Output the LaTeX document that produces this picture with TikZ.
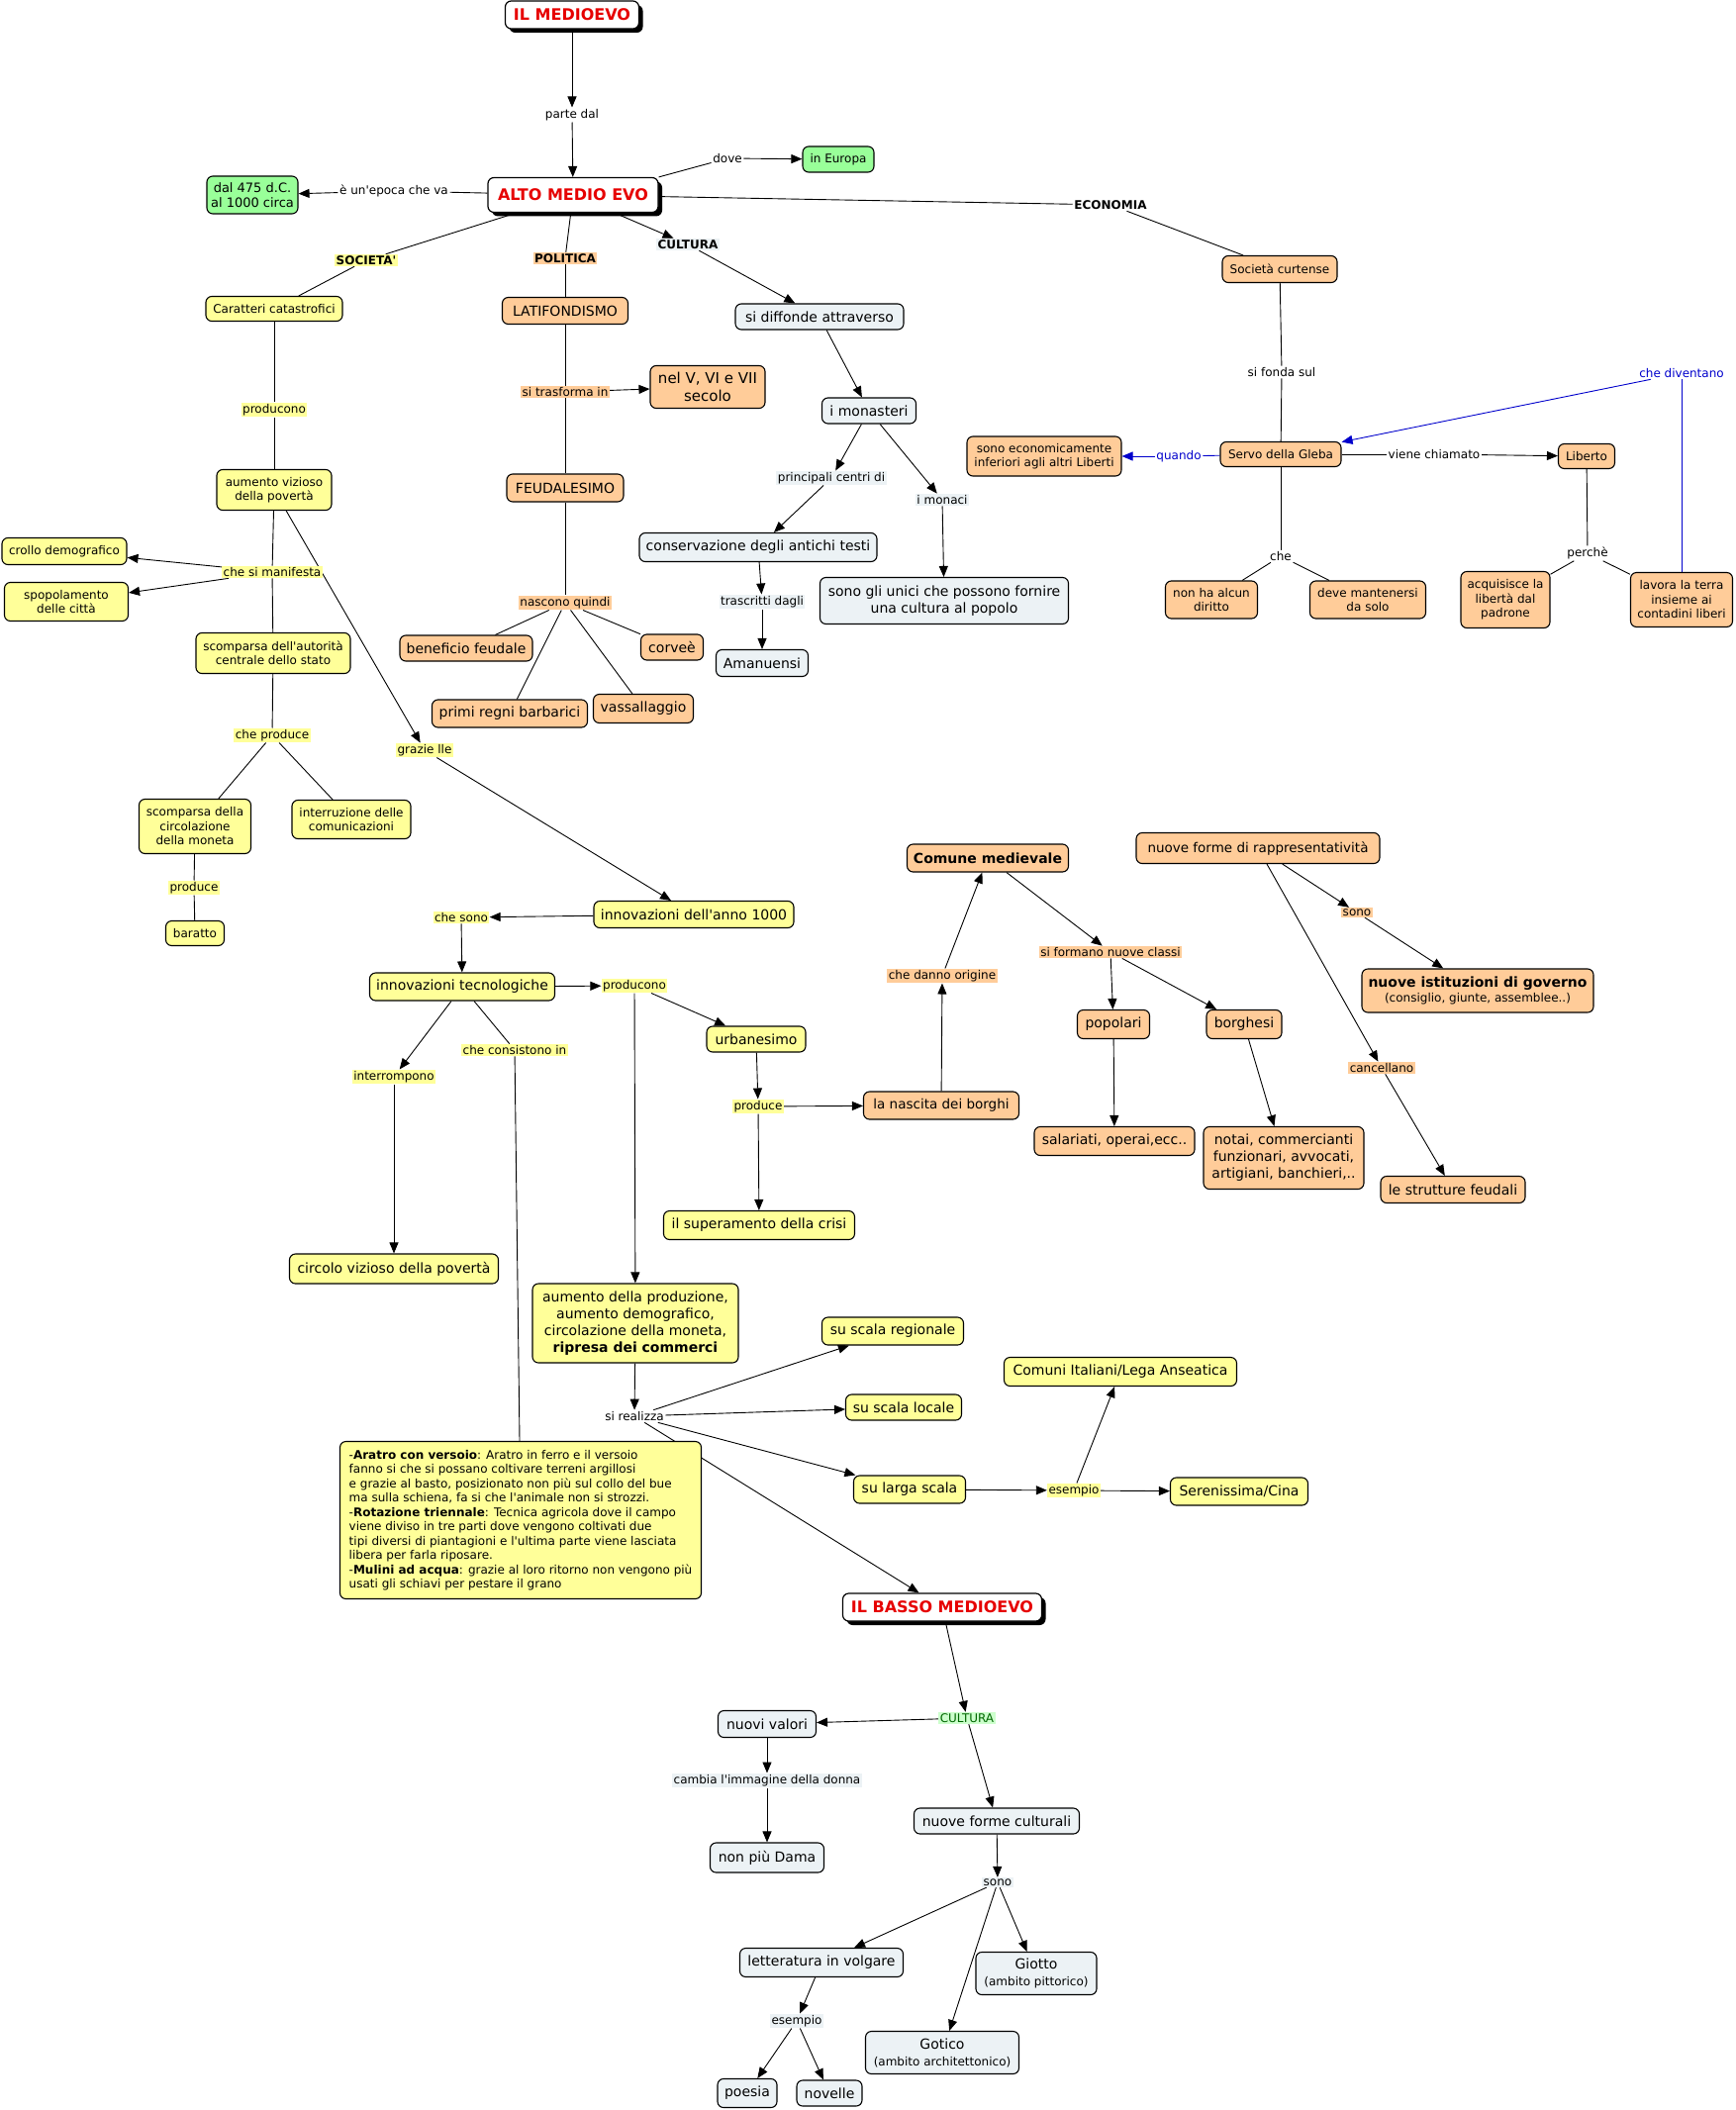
\documentclass[tikz,border=0pt]{standalone}
\usepackage{fontspec}
\setmainfont{DejaVu Sans}[Ligatures=TeXOff]
\usetikzlibrary{arrows.meta,shadows,backgrounds}
\definecolor{cY}{HTML}{FFFF99}
\definecolor{cP}{HTML}{FFCC99}
\definecolor{cL}{HTML}{ECF2F5}
\definecolor{cG}{HTML}{99FF99}
\definecolor{cGb}{HTML}{CCFFCC}
\definecolor{cGt}{HTML}{006600}
\definecolor{cR}{HTML}{E60000}
\definecolor{cB}{HTML}{0000CC}
\newcommand\fsz[2]{\fontsize{#1}{#2}\selectfont}
\begin{document}
\begin{tikzpicture}[x=1pt,y=-1pt,
  bx/.style={draw=black,line width=1.1pt,rounded corners=6pt,align=center,inner sep=2pt,font=\fsz{12}{14.5}},
  s12/.style={font=\fsz{12}{14.5}},
  s13/.style={font=\fsz{13.5}{16}},
  s14/.style={font=\fsz{14}{17}},
  s15/.style={font=\fsz{15}{18}},
  wh/.style args={#1x#2}{minimum width=#1pt,minimum height=#2pt},
  yb/.style={bx,fill=cY},
  pb/.style={bx,fill=cP},
  lb/.style={bx,fill=cL},
  gb/.style={bx,fill=cG},
  tb/.style={bx,fill=white,line width=1.2pt,text=cR,font=\fsz{16}{19}\bfseries,
     drop shadow={shadow xshift=4pt,shadow yshift=-4pt,fill=black,opacity=1}},
  lab/.style={inner sep=1.5pt,font=\fsz{12}{14.5}},
  ylab/.style={lab,fill=cY},
  plab/.style={lab,fill=cP},
  llab/.style={lab,fill=cL},
  con/.style={line width=0.9pt,draw=black},
  arr/.style={con,-{Triangle[length=11pt,width=9pt]}},
]
\useasboundingbox (0,0) rectangle (1753,2132);

% ---------- titles ----------
\node[tb,wh=135x28] (med) at (578,15) {IL MEDIOEVO};
\node[tb,wh=172x35] (alto) at (579,197) {ALTO MEDIO EVO};
\node[tb,wh=201x28] (basso) at (952,1624) {IL BASSO MEDIOEVO};

% ---------- top ----------
\node[lab] (partedal) at (578,116) {parte dal};
\node[gb,font=\fsz{13}{15.5},wh=92x38] (dal) at (255,197) {dal 475 d.C.\\al 1000 circa};
\node[lab] (epoca) at (398,193) {è un'epoca che va};
\node[lab] (dove) at (735,160) {dove};
\node[gb,wh=72x26] (europa) at (847,161) {in Europa};
\node[lab,font=\fsz{12}{14.5}\bfseries] (economia) at (1122,207) {ECONOMIA};
\node[ylab,font=\fsz{12}{14.5}\bfseries] (societa) at (370,263) {SOCIETA'};
\node[plab,font=\fsz{12}{14.5}\bfseries] (politica) at (571,261) {POLITICA};
\node[llab,font=\fsz{12}{14.5}\bfseries] (cultura) at (695,247) {CULTURA};

% ---------- societa ----------
\node[yb,wh=138x25] (caratteri) at (277,312) {Caratteri catastrofici};
\node[ylab] (producono1) at (277,414) {producono};
\node[yb,wh=116x41] (aumentoviz) at (277,495) {aumento vizioso\\della povertà};
\node[ylab] (manifesta) at (275,578) {che si manifesta};
\node[yb,wh=126x27] (crollo) at (65,557) {crollo demografico};
\node[yb,wh=125x39] (spopol) at (67,608) {spopolamento\\delle città};
\node[yb,wh=156x41] (scompaut) at (276,660) {scomparsa dell'autorità\\centrale dello stato};
\node[ylab] (cheproduce) at (275,743) {che produce};
\node[yb,wh=113x55] (scompcirc) at (197,835) {scomparsa della\\circolazione\\della moneta};
\node[yb,wh=120x39] (interr) at (355,828) {interruzione delle\\comunicazioni};
\node[ylab] (produce1) at (196,897) {produce};
\node[yb,wh=59x25] (baratto) at (197,943) {baratto};
\node[ylab] (grazie) at (429,758) {grazie lle};

% ---------- politica ----------
\node[pb,s14,wh=127x27] (latif) at (571,314) {LATIFONDISMO};
\node[plab] (trasforma) at (571,396) {si trasforma in};
\node[pb,s15,wh=116x43] (secolo) at (715,391) {nel V, VI e VII\\secolo};
\node[pb,s14,wh=118x28] (feud) at (571,493) {FEUDALESIMO};
\node[plab] (nascono) at (571,609) {nascono quindi};
\node[pb,s14,wh=134x26] (benef) at (471,655) {beneficio feudale};
\node[pb,s14,wh=63x26] (corvee) at (679,654) {corveè};
\node[pb,s14,wh=157x28] (primi) at (515,721) {primi regni barbarici};
\node[pb,s14,wh=101x29] (vassal) at (650,716) {vassallaggio};

% ---------- cultura ----------
\node[lb,s14,wh=170x26] (diffonde) at (828,320) {si diffonde attraverso};
\node[lb,s14,wh=95x26] (monasteri) at (878,415) {i monasteri};
\node[llab] (principali) at (840,483) {principali centri di\ };
\node[llab] (monaci) at (952,505) {i monaci};
\node[lb,s14,wh=240x29] (conserv) at (766,553) {conservazione degli antichi testi};
\node[lb,s14,wh=251x47] (unici) at (954,607) {sono gli unici che possono fornire\\una cultura al popolo};
\node[llab] (trascritti) at (770,608) {trascritti dagli};
\node[lb,s14,wh=93x27] (amanuensi) at (770,670) {Amanuensi};

% ---------- economia ----------
\node[pb,wh=116x27] (curtense) at (1293,272) {Società curtense};
\node[lab] (fonda) at (1295,376) {si fonda sul};
\node[pb,wh=122x25] (servo) at (1294,459) {Servo della Gleba};
\node[lab,text=cB] (quando) at (1191,461) {quando};
\node[pb,wh=156x40] (inferiori) at (1055,461) {sono economicamente\\inferiori agli altri Liberti};
\node[lab] (chiamato) at (1449,459) {viene chiamato};
\node[pb,wh=57x25] (liberto) at (1603,461) {Liberto};
\node[lab,text=cB] (diventano) at (1699,377) {che diventano};
\node[lab] (che) at (1294,562) {che};
\node[pb,wh=93x38] (nonha) at (1224,606) {non ha alcun\\diritto};
\node[pb,wh=117x38] (deve) at (1382,606) {deve mantenersi\\da solo};
\node[lab] (perche) at (1604,559) {perchè};
\node[pb,wh=90x57] (acquis) at (1521,606) {acquisisce la\\libertà dal\\padrone};
\node[pb,wh=103x55] (lavora) at (1699,606) {lavora la terra\\insieme ai\\contadini liberi};

% ---------- innovazioni ----------
\node[yb,s14,wh=202x27] (innov1000) at (701,924) {innovazioni dell'anno 1000};
\node[ylab] (chesono) at (466,927) {che sono};
\node[yb,s14,wh=187x28] (innovtec) at (467,997) {innovazioni tecnologiche};
\node[ylab] (producono2) at (641,996) {producono};
\node[yb,s14,wh=100x26] (urban) at (764,1050) {urbanesimo};
\node[ylab] (produce2) at (766,1118) {produce};
\node[pb,s13,wh=157x28] (nascita) at (951,1117) {la nascita dei borghi};
\node[yb,s14,wh=193x29] (superam) at (767,1238) {il superamento della crisi};
\node[ylab] (interrompono) at (398,1088) {interrompono};
\node[yb,s14,wh=211x30] (circolo) at (398,1282) {circolo vizioso della povertà};
\node[ylab] (consistono) at (520,1061) {che consistono in\ };
\node[yb,s14,wh=208x80] (aumprod) at (642,1337) {aumento della produzione,\\aumento demografico,\\circolazione della moneta,\\\textbf{ripresa dei commerci}};
\node[yb,align=left,inner xsep=8pt,wh=365x159] (note) at (526,1536) {-\textbf{Aratro con versoio}: Aratro in ferro e il versoio\\
fanno si che si possano coltivare terreni argillosi\\
e grazie al basto, posizionato non più sul collo del bue\\
ma sulla schiena, fa si che l'animale non si strozzi.\\
-\textbf{Rotazione triennale}: Tecnica agricola dove il campo\\
viene diviso in tre parti dove vengono coltivati due\\
tipi diversi di piantagioni e l'ultima parte viene lasciata\\
libera per farla riposare.\\
-\textbf{Mulini ad acqua}: grazie al loro ritorno non vengono più\\
usati gli schiavi per pestare il grano};
\node[lab] (realizza) at (641,1431) {si realizza};
\node[yb,s14,wh=143x28] (regionale) at (902,1345) {su scala regionale};
\node[yb,s14,wh=117x26] (locale) at (913,1422) {su scala locale};
\node[yb,s14,wh=113x28] (larga) at (919,1505) {su larga scala};
\node[ylab] (esempio1) at (1085,1506) {esempio};
\node[yb,s14,wh=235x29] (comuni) at (1132,1386) {Comuni Italiani/Lega Anseatica};
\node[yb,s14,wh=139x28] (seren) at (1252,1507) {Serenissima/Cina};

% ---------- comune ----------
\node[pb,s14,wh=163x28,font=\fsz{14}{17}\bfseries] (comune) at (998,867) {Comune medievale};
\node[plab] (danno) at (952,986) {che danno origine};
\node[plab] (formano) at (1122,962) {si formano nuove classi};
\node[pb,s14,wh=73x29] (popolari) at (1125,1035) {popolari};
\node[pb,s14,wh=76x29] (borghesi) at (1257,1035) {borghesi};
\node[pb,s14,wh=162x29] (salariati) at (1126,1153) {salariati, operai,ecc..};
\node[pb,s14,wh=162x63] (notai) at (1297,1170) {notai, commercianti\\funzionari, avvocati,\\artigiani, banchieri,..};
\node[pb,s13,wh=246x31] (nuoveforme) at (1271,857) {nuove forme di rappresentatività};
\node[plab] (sono1) at (1371,922) {sono};
\node[pb,wh=234x44] (istit) at (1493,1001) {{\fsz{14}{17}\bfseries nuove istituzioni di governo}\\(consiglio, giunte, assemblee..)};
\node[plab] (cancellano) at (1396,1079) {cancellano};
\node[pb,s14,wh=146x27] (strutture) at (1468,1202) {le strutture feudali};

% ---------- basso medioevo ----------
\node[lab,fill=cGb,text=cGt] (cultura2) at (977,1736) {CULTURA};
\node[lb,s14,wh=99x27] (nuovivalori) at (775,1742) {nuovi valori};
\node[llab] (cambia) at (775,1799) {cambia l'immagine della donna};
\node[lb,s14,wh=115x30] (nonpiu) at (775,1877) {non più Dama};
\node[lb,s14,wh=167x26] (nuovefc) at (1007,1840) {nuove forme culturali};
\node[llab] (sono2) at (1008,1902) {sono};
\node[lb,s14,wh=165x29] (letter) at (830,1983) {letteratura in volgare};
\node[lb,s14,wh=122x43] (giotto) at (1047,1994) {Giotto\\{\fsz{12}{14.5}(ambito pittorico)}};
\node[lb,s14,wh=155x43] (gotico) at (952,2074) {Gotico\\{\fsz{12}{14.5}(ambito architettonico)}};
\node[llab] (esempio2) at (805,2042) {esempio};
\node[lb,s14,wh=60x29] (poesia) at (755,2115) {poesia};
\node[lb,s14,wh=66x26] (novelle) at (838,2115) {novelle};

% ---------- connectors ----------
\begin{scope}[on background layer]
\fill[white] (0,0) rectangle (1753,2132);
\draw[arr] (med) -- (partedal);
\draw[arr] (partedal) -- (alto);
\draw[con] (alto) -- (epoca);
\draw[arr] (epoca) -- (dal);
\draw[con] (alto.north east) -- (dove);
\draw[arr] (dove) -- (europa);
\draw[con] (alto) -- (economia);
\draw[con] (economia) -- (curtense);
\draw[con] (alto) -- (societa);
\draw[con] (alto) -- (politica);
\draw[arr] (alto) -- (cultura);
\draw[arr] (cultura) -- (diffonde);
\draw[con] (societa) -- (caratteri);
\draw[con] (politica) -- (latif);
\draw[con] (caratteri) -- (producono1);
\draw[con] (producono1) -- (aumentoviz);
\draw[con] (latif) -- (trasforma);
\draw[con] (trasforma) -- (feud);
\draw[arr] (trasforma) -- (secolo);
\draw[arr] (diffonde) -- (monasteri);
\draw[arr] (monasteri) -- (principali);
\draw[arr] (principali) -- (conserv);
\draw[arr] (monasteri) -- (monaci);
\draw[arr] (monaci) -- (unici);
\draw[arr] (conserv) -- (trascritti);
\draw[arr] (trascritti) -- (amanuensi);
\draw[con] (curtense) -- (fonda);
\draw[con] (fonda) -- (servo);
\draw[con,cB] (servo) -- (quando);
\draw[arr,cB] (quando) -- (inferiori);
\draw[con] (servo) -- (chiamato);
\draw[arr] (chiamato) -- (liberto);
\draw[arr,cB] (diventano) -- (servo);
\draw[con,cB] (diventano) -- (lavora);
\draw[con] (servo) -- (che);
\draw[con] (che) -- (nonha);
\draw[con] (che) -- (deve);
\draw[con] (liberto) -- (perche);
\draw[con] (perche) -- (acquis);
\draw[con] (perche) -- (lavora);
\draw[con] (aumentoviz) -- (manifesta);
\draw[arr] (manifesta) -- (crollo);
\draw[arr] (manifesta) -- (spopol);
\draw[con] (manifesta) -- (scompaut);
\draw[con] (scompaut) -- (cheproduce);
\draw[con] (cheproduce) -- (scompcirc);
\draw[con] (cheproduce) -- (interr);
\draw[con] (scompcirc) -- (produce1);
\draw[con] (produce1) -- (baratto);
\draw[arr] (aumentoviz) -- (grazie);
\draw[arr] (grazie) -- (innov1000);
\draw[con] (feud) -- (nascono);
\draw[con] (nascono) -- (benef);
\draw[con] (nascono) -- (primi);
\draw[con] (nascono) -- (vassal);
\draw[con] (nascono) -- (corvee);
\draw[arr] (innov1000) -- (chesono);
\draw[arr] (chesono) -- (innovtec);
\draw[arr] (innovtec) -- (producono2);
\draw[arr] (producono2) -- (urban);
\draw[arr] (producono2) -- (aumprod);
\draw[arr] (urban) -- (produce2);
\draw[arr] (produce2) -- (nascita);
\draw[arr] (produce2) -- (superam);
\draw[arr] (innovtec) -- (interrompono);
\draw[arr] (interrompono) -- (circolo);
\draw[con] (innovtec) -- (consistono);
\draw[con] (consistono) -- (note);
\draw[arr] (nascita) -- (danno);
\draw[arr] (danno) -- (comune);
\draw[arr] (comune) -- (formano);
\draw[arr] (formano) -- (popolari);
\draw[arr] (formano) -- (borghesi);
\draw[arr] (popolari) -- (salariati);
\draw[arr] (borghesi) -- (notai);
\draw[arr] (nuoveforme) -- (sono1);
\draw[arr] (sono1) -- (istit);
\draw[arr] (nuoveforme) -- (cancellano);
\draw[arr] (cancellano) -- (strutture);
\draw[arr] (aumprod) -- (realizza);
\draw[arr] (realizza) -- (regionale);
\draw[arr] (realizza) -- (locale);
\draw[arr] (realizza) -- (larga);
\draw[arr] (realizza) -- (basso);
\draw[arr] (larga) -- (esempio1);
\draw[arr] (esempio1) -- (comuni);
\draw[arr] (esempio1) -- (seren);
\draw[arr] (basso) -- (cultura2);
\draw[arr] (cultura2) -- (nuovivalori);
\draw[arr] (cultura2) -- (nuovefc);
\draw[arr] (nuovivalori) -- (cambia);
\draw[arr] (cambia) -- (nonpiu);
\draw[arr] (nuovefc) -- (sono2);
\draw[arr] (sono2) -- (letter);
\draw[arr] (sono2) -- (gotico);
\draw[arr] (sono2) -- (giotto);
\draw[arr] (letter) -- (esempio2);
\draw[arr] (esempio2) -- (poesia);
\draw[arr] (esempio2) -- (novelle);
\end{scope}
\end{tikzpicture}
\end{document}
